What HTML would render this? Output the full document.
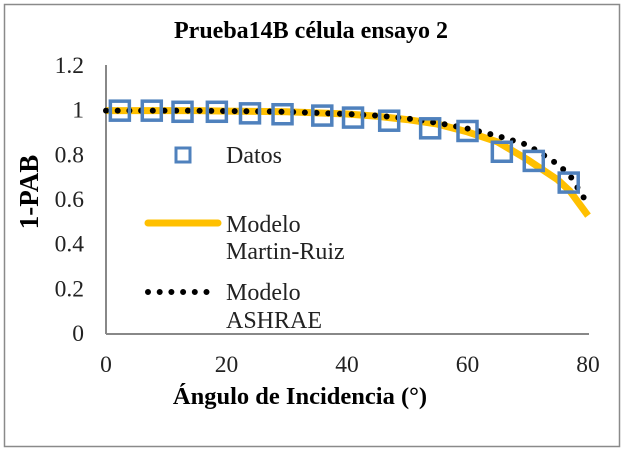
<!DOCTYPE html>
<html><head><meta charset="utf-8"><style>
body{margin:0;background:#fff}
svg{display:block;font-family:"Liberation Serif",serif}
</style></head><body>
<svg width="627" height="454" viewBox="0 0 627 454">
<rect x="4.5" y="4.5" width="615" height="442" fill="#fff" stroke="#8a8a8a" stroke-width="1.5"/>
<text x="311" y="38" text-anchor="middle" font-size="24" font-weight="bold">Prueba14B célula ensayo 2</text>
<text transform="translate(38,192) rotate(-90)" text-anchor="middle" font-size="27" font-weight="bold">1-PAB</text>
<text x="300" y="404" text-anchor="middle" font-size="24.5" font-weight="bold">Ángulo de Incidencia (°)</text>
<g id="axes"></g>
<g id="marks"></g>
<g>
<rect x="176" y="148" width="14" height="14" fill="none" stroke="#4f81bd" stroke-width="3"/>
<text x="226" y="163" font-size="24" fill="#222">Datos</text>
<line x1="148" y1="223" x2="218" y2="223" stroke="#ffc000" stroke-width="7" stroke-linecap="round"/>
<text x="226" y="232" font-size="24" fill="#222"><tspan x="226">Modelo</tspan><tspan x="226" dy="27">Martin-Ruiz</tspan></text>
<line x1="148" y1="292" x2="210" y2="292" stroke="#000" stroke-width="6" stroke-linecap="round" stroke-dasharray="0 11.7"/>
<text x="226" y="300" font-size="24" fill="#222"><tspan x="226">Modelo</tspan><tspan x="226" dy="28">ASHRAE</tspan></text>
</g>
</svg>
<script>
const xTicks=[0,20,40,60,80];
const yTicks=[0,0.2,0.4,0.6,0.8,1,1.2];
const yTickLabels=["0","0.2","0.4","0.6","0.8","1","1.2"];
const datosX=[2.3,7.6,12.7,18.4,23.9,29.3,35.9,41,47,53.8,60,65.7,71,76.8];
const datosY=[1.0,1.0,0.995,0.995,0.988,0.984,0.978,0.969,0.955,0.921,0.909,0.816,0.775,0.678];
const modelX=[0,5,10,15,20,25,30,35,40,45,50,55,60,65,70,75,77,80];
const martinY=[1,1,1,1,0.998,0.997,0.995,0.99,0.985,0.975,0.96,0.94,0.905,0.86,0.78,0.69,0.64,0.53];
const ashraeY=[1,1,1,1,0.998,0.997,0.995,0.99,0.985,0.978,0.965,0.945,0.92,0.887,0.846,0.76,0.71,0.58];
const X0=106,X1=588,Y0=334,Y1=66;
const sx=v=>X0+(v-0)/80*(X1-X0);
const sy=v=>Y0-(v/1.2)*(Y0-Y1);
const NS="http://www.w3.org/2000/svg";
function mk(tag,attrs,parent){const e=document.createElementNS(NS,tag);for(const k in attrs)e.setAttribute(k,attrs[k]);parent.appendChild(e);return e;}
const axes=document.getElementById('axes'),marks=document.getElementById('marks');
let a=mk('line',{x1:X0,y1:Y1-1,x2:X0,y2:Y0,stroke:'#888','stroke-width':2},axes);


a=mk('line',{x1:X0,y1:Y0,x2:X1+1,y2:Y0,stroke:'#888','stroke-width':2},axes);


yTicks.forEach((v,i)=>{const t=mk('text',{x:X0-22,y:sy(v)+7,'text-anchor':'end','font-size':23.5,fill:'#222'},axes);t.textContent=yTickLabels[i];

});
xTicks.forEach(v=>{const t=mk('text',{x:sx(v),y:Y0+38,'text-anchor':'middle','font-size':23.5,fill:'#222'},axes);t.textContent=String(v);

});
const pts=(xs,ys)=>xs.map((x,i)=>sx(x)+','+sy(ys[i])).join(' ');
let l=mk('polyline',{points:pts(modelX,martinY),fill:'none',stroke:'#ffc000','stroke-width':7,'stroke-linejoin':'round'},marks);


l=mk('polyline',{points:pts(modelX,ashraeY),fill:'none',stroke:'#000','stroke-width':6,'stroke-linecap':'round','stroke-dasharray':'0 11.7'},marks);


datosX.forEach((x,i)=>{const r=mk('rect',{x:sx(x)-9.5,y:sy(datosY[i])-9.5,width:19,height:19,fill:'none',stroke:'#4f81bd','stroke-width':3.5},marks);

});
</script>
</body></html>
